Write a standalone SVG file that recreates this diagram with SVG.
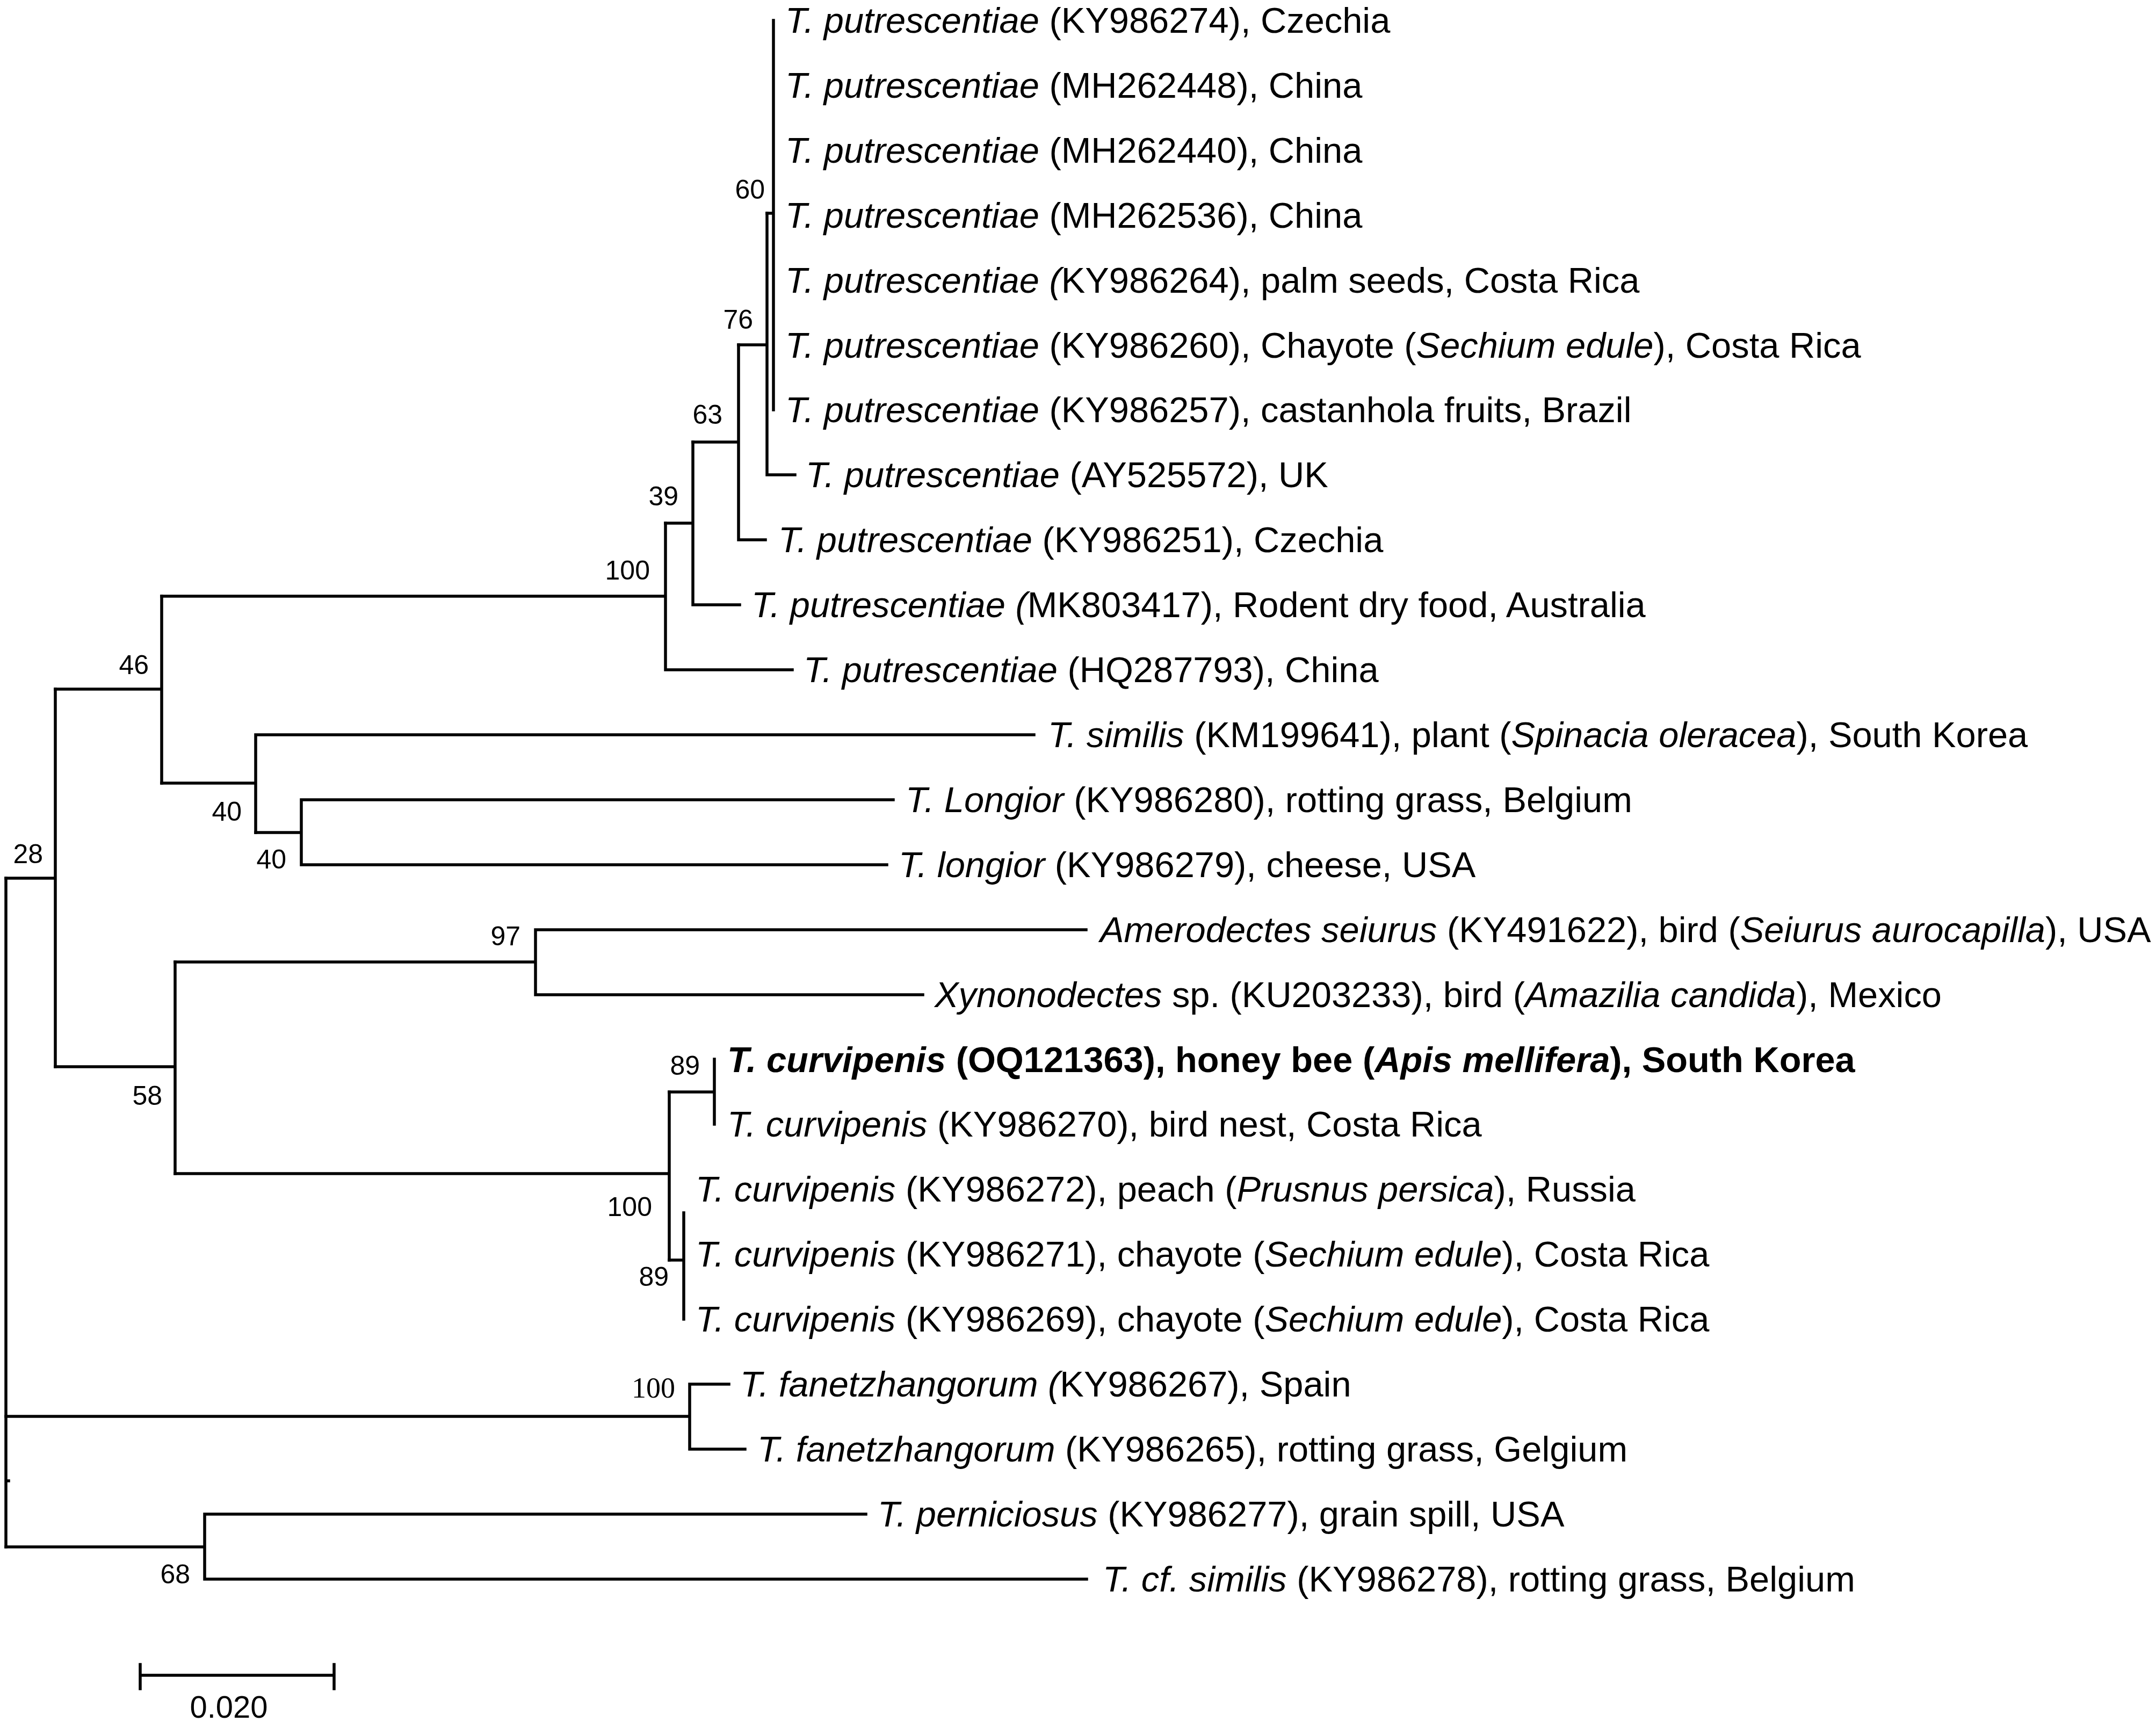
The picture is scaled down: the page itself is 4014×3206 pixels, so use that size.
<svg xmlns="http://www.w3.org/2000/svg" width="4014" height="3206" viewBox="0 0 4014 3206">
<style>
.tx{font-family:"Liberation Sans",Arial,sans-serif;font-size:66.8px;fill:#000}
.bs{font-family:"Liberation Sans",Arial,sans-serif;font-size:50px;fill:#000;text-anchor:end}
.bss{font-family:"Liberation Serif","Times New Roman",serif;font-size:54px;fill:#000;text-anchor:end}
.i{font-style:italic}
.b{font-weight:bold}
.ln{stroke:#000;stroke-width:5.5;fill:none;stroke-linecap:square}
</style>
<rect width="4014" height="3206" fill="#fff"/>
<g id="connectors" class="ln">
<path d="M11 1635V2880M11 2757H16"/>
<path d="M11 1635H103M103 1283V1986"/>
<path d="M103 1283H301M301 1110V1458"/>
<path d="M301 1110H1239M1239 974V1247M1239 1247H1475"/>
<path d="M1239 974H1290M1290 823V1126M1290 1126H1377"/>
<path d="M1290 823H1375M1375 642V1005M1375 1005H1425"/>
<path d="M1375 642H1428M1428 397V884M1428 884H1480"/>
<path d="M1428 397H1440M1440 38V763"/>
<path d="M301 1458H476M476 1368V1550M476 1368H1925"/>
<path d="M476 1550H561M561 1489V1610M561 1489H1663M561 1610H1651"/>
<path d="M103 1986H326M326 1791V2185"/>
<path d="M326 1791H997M997 1731V1852M997 1731H2022M997 1852H1718"/>
<path d="M326 2185H1246M1246 2033V2346"/>
<path d="M1246 2033H1330M1330 1972V2093"/>
<path d="M1246 2346H1273M1273 2258V2456"/>
<path d="M11 2637H1284M1284 2577V2698M1284 2577H1357M1284 2698H1387"/>
<path d="M11 2880H381M381 2819V2940M381 2819H1612M381 2940H2023"/>
<path d="M261 3119H622M261 3099V3144M622 3099V3144"/>
</g>
<g id="leaf-KY986274"><text class="tx" x="1462" y="61"><tspan class="i">T. putrescentiae</tspan> (KY986274), Czechia</text></g>
<g id="leaf-MH262448"><text class="tx" x="1462" y="182"><tspan class="i">T. putrescentiae</tspan> (MH262448), China</text></g>
<g id="leaf-MH262440"><text class="tx" x="1462" y="303"><tspan class="i">T. putrescentiae</tspan> (MH262440), China</text></g>
<g id="leaf-MH262536"><text class="tx" x="1462" y="424"><tspan class="i">T. putrescentiae</tspan> (MH262536), China</text></g>
<g id="leaf-KY986264"><text class="tx" x="1462" y="545"><tspan class="i">T. putrescentiae (</tspan>KY986264), palm seeds, Costa Rica</text></g>
<g id="leaf-KY986260"><text class="tx" x="1462" y="666"><tspan class="i">T. putrescentiae</tspan> (KY986260), Chayote (<tspan class="i">Sechium edule</tspan>), Costa Rica</text></g>
<g id="leaf-KY986257"><text class="tx" x="1462" y="786"><tspan class="i">T. putrescentiae</tspan> (KY986257), castanhola fruits, Brazil</text></g>
<g id="leaf-AY525572"><text class="tx" x="1500" y="907"><tspan class="i">T. putrescentiae</tspan> (AY525572), UK</text></g>
<g id="leaf-KY986251"><text class="tx" x="1449" y="1028"><tspan class="i">T. putrescentiae</tspan> (KY986251), Czechia</text></g>
<g id="leaf-MK803417"><text class="tx" x="1399" y="1149"><tspan class="i">T. putrescentiae (</tspan>MK803417), Rodent dry food, Australia</text></g>
<g id="leaf-HQ287793"><text class="tx" x="1496" y="1270"><tspan class="i">T. putrescentiae</tspan> (HQ287793), China</text></g>
<g id="leaf-KM199641"><text class="tx" x="1951" y="1391"><tspan class="i">T. similis</tspan> (KM199641), plant (<tspan class="i">Spinacia oleracea</tspan>), South Korea</text></g>
<g id="leaf-KY986280"><text class="tx" x="1686" y="1512"><tspan class="i">T. Longior</tspan> (KY986280), rotting grass, Belgium</text></g>
<g id="leaf-KY986279"><text class="tx" x="1673" y="1633"><tspan class="i">T. longior</tspan> (KY986279), cheese, USA</text></g>
<g id="leaf-KY491622"><text class="tx" x="2048" y="1754"><tspan class="i">Amerodectes seiurus</tspan> (KY491622), bird (<tspan class="i">Seiurus aurocapilla</tspan>), USA</text></g>
<g id="leaf-KU203233"><text class="tx" x="1740" y="1875"><tspan class="i">Xynonodectes</tspan> sp. (KU203233), bird (<tspan class="i">Amazilia candida</tspan>), Mexico</text></g>
<g id="leaf-OQ121363"><text class="tx b" x="1354" y="1996"><tspan class="i">T. curvipenis</tspan> (OQ121363), honey bee (<tspan class="i">Apis mellifera</tspan>), South Korea</text></g>
<g id="leaf-KY986270"><text class="tx" x="1354" y="2116"><tspan class="i">T. curvipenis</tspan> (KY986270), bird nest, Costa Rica</text></g>
<g id="leaf-KY986272"><text class="tx" x="1295" y="2237"><tspan class="i">T. curvipenis</tspan> (KY986272), peach (<tspan class="i">Prusnus persica</tspan>), Russia</text></g>
<g id="leaf-KY986271"><text class="tx" x="1295" y="2358"><tspan class="i">T. curvipenis</tspan> (KY986271), chayote (<tspan class="i">Sechium edule</tspan>), Costa Rica</text></g>
<g id="leaf-KY986269"><text class="tx" x="1295" y="2479"><tspan class="i">T. curvipenis</tspan> (KY986269), chayote (<tspan class="i">Sechium edule</tspan>), Costa Rica</text></g>
<g id="leaf-KY986267"><text class="tx" x="1378" y="2600"><tspan class="i">T. fanetzhangorum (</tspan>KY986267), Spain</text></g>
<g id="leaf-KY986265"><text class="tx" x="1410" y="2721"><tspan class="i">T. fanetzhangorum</tspan> (KY986265), rotting grass, Gelgium</text></g>
<g id="leaf-KY986277"><text class="tx" x="1634" y="2842"><tspan class="i">T. perniciosus</tspan> (KY986277), grain spill, USA</text></g>
<g id="leaf-KY986278"><text class="tx" x="2053" y="2963"><tspan class="i">T. cf. similis</tspan> (KY986278), rotting grass, Belgium</text></g>
<g id="node-28"><text class="bs" x="80" y="1607">28</text></g>
<g id="node-46"><text class="bs" x="277" y="1255">46</text></g>
<g id="node-100a"><text class="bs" x="1210" y="1079">100</text></g>
<g id="node-39"><text class="bs" x="1263" y="941">39</text></g>
<g id="node-63"><text class="bs" x="1345" y="789">63</text></g>
<g id="node-76"><text class="bs" x="1402" y="612">76</text></g>
<g id="node-60"><text class="bs" x="1424" y="370">60</text></g>
<g id="node-40a"><text class="bs" x="450" y="1528">40</text></g>
<g id="node-40b"><text class="bs" x="533" y="1617">40</text></g>
<g id="node-58"><text class="bs" x="302" y="2057">58</text></g>
<g id="node-97"><text class="bs" x="969" y="1760">97</text></g>
<g id="node-100b"><text class="bs" x="1214" y="2264">100</text></g>
<g id="node-89a"><text class="bs" x="1303" y="2001">89</text></g>
<g id="node-89b"><text class="bs" x="1245" y="2394">89</text></g>
<g id="node-100c"><text class="bss" x="1257" y="2602">100</text></g>
<g id="node-68"><text class="bs" x="354" y="2948">68</text></g>
<g id="scale-bar"><text class="bs" x="426" y="3198" style="text-anchor:middle;font-size:58px">0.020</text></g>
</svg>
